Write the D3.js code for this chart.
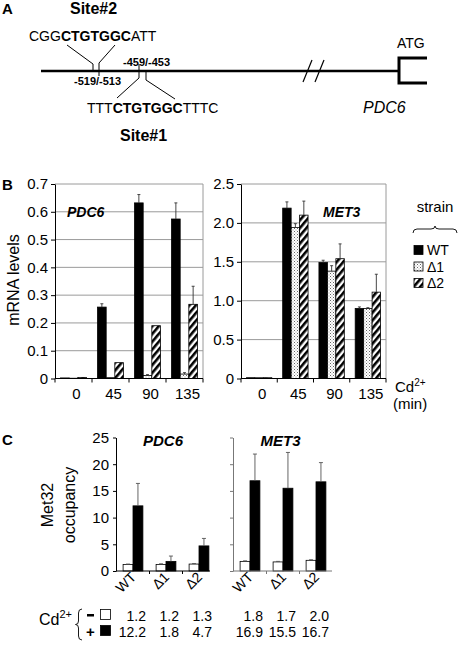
<!DOCTYPE html>
<html><head><meta charset="utf-8">
<script src="https://cdn.jsdelivr.net/npm/d3@7"></script>
<style>
body{margin:0;background:#fff}
svg text{font-family:Arial,"Liberation Sans",Helvetica,sans-serif;fill:#000}
</style></head>
<body><svg id="fig" width="458" height="645"></svg>
<script>
// ---------------- DATA ----------------
const timepoints = ["0","45","90","135"];
const strains = ["WT","Δ1","Δ2"];

// Panel B: PDC6 mRNA levels (per strain, per timepoint)
const pdc6WT  = [0.002, 0.257, 0.632, 0.574];
const pdc6D1  = [0.001, 0.003, 0.011, 0.016];
const pdc6D2  = [0.004, 0.057, 0.190, 0.267];
const pdc6WTerr = [0, 0.012, 0.030, 0.058];
const pdc6D1err = [0, 0, 0.003, 0.005];
const pdc6D2err = [0, 0, 0, 0.065];
const pdc6TickValues = [0,0.1,0.2,0.3,0.4,0.5,0.6,0.7];
const pdc6TickLabels = ["0","0.1","0.2","0.3","0.4","0.5","0.6","0.7"];

// Panel B: MET3 mRNA levels
const met3WT  = [0.01, 2.19, 1.49, 0.90];
const met3D1  = [0.01, 1.94, 1.38, 0.90];
const met3D2  = [0.01, 2.10, 1.54, 1.11];
const met3WTerr = [0, 0.08, 0.03, 0.02];
const met3D1err = [0, 0.05, 0.07, 0.01];
const met3D2err = [0, 0.18, 0.19, 0.23];
const met3TickValues = [0,0.5,1.0,1.5,2.0,2.5];
const met3TickLabels = ["0","0.5","1.0","1.5","2.0","2.5"];

// Panel C: Met32 occupancy (- Cd / + Cd)
const occPDC6minus = [1.2, 1.2, 1.3];
const occPDC6plus  = [12.2, 1.8, 4.7];
const occMET3minus = [1.8, 1.7, 2.0];
const occMET3plus  = [16.9, 15.5, 16.7];
const occPDC6minusErr = [0.1, 0.15, 0.1];
const occPDC6plusErr  = [4.2, 1.0, 1.4];
const occMET3minusErr = [0.1, 0.1, 0.1];
const occMET3plusErr  = [5.0, 6.7, 3.6];
const occTickValues = [0,5,10,15,20,25];
const occTickLabels = ["0","5","10","15","20","25"];

// ---------------- DRAWING ----------------
const svg = d3.select("#fig");
const defs = svg.append("defs");
// hatched pattern (Δ2)
const hp = defs.append("pattern").attr("id","hatch").attr("patternUnits","userSpaceOnUse")
  .attr("width",5).attr("height",5).attr("patternTransform","rotate(40)");
hp.append("rect").attr("width",5).attr("height",5).attr("fill","#fff");
hp.append("rect").attr("width",2.6).attr("height",5).attr("fill","#000");
// dotted pattern (Δ1)
const dp = defs.append("pattern").attr("id","dots").attr("patternUnits","userSpaceOnUse")
  .attr("width",3).attr("height",3);
dp.append("rect").attr("width",3).attr("height",3).attr("fill","#fff");
dp.append("rect").attr("x",0).attr("y",0).attr("width",1).attr("height",1).attr("fill","#666");
dp.append("rect").attr("x",1.5).attr("y",1.5).attr("width",1).attr("height",1).attr("fill","#999");

const fills = {"WT":"#000","Δ1":"url(#dots)","Δ2":"url(#hatch)"};

// ===== Panel A: promoter diagram =====
const A = svg.append("g");
A.append("text").attr("x",2).attr("y",14).attr("font-size",15).attr("font-weight","bold").text("A");
const line = (pts, w) => A.append("path").attr("d", d3.line()(pts)).attr("fill","none")
  .attr("stroke","#000").attr("stroke-width", w||1);
line([[41,71],[399,71]], 2.5);
line([[303,82],[312,60]], 1.2);
line([[315,82],[324,60]], 1.2);
line([[427,58],[399,58],[399,83],[427,83]], 3);
// site 2 connectors
line([[67,45],[93,64],[93,71]]);
line([[115,45],[99,63],[99,76]]);
// site 1 connectors
line([[139,64],[139,78],[117,98]]);
line([[146,71],[146,80],[175,99]]);
A.append("text").attr("x",70).attr("y",14).attr("font-size",16).attr("font-weight","bold").text("Site#2");
const s2 = A.append("text").attr("x",29).attr("y",41).attr("font-size",14);
s2.append("tspan").text("CGG"); s2.append("tspan").attr("font-weight","bold").text("CTGTGGC"); s2.append("tspan").text("ATT");
A.append("text").attr("x",123).attr("y",66).attr("font-size",11).attr("font-weight","bold").text("-459/-453");
A.append("text").attr("x",74).attr("y",85).attr("font-size",11).attr("font-weight","bold").text("-519/-513");
const s1 = A.append("text").attr("x",87).attr("y",113).attr("font-size",14);
s1.append("tspan").text("TTT"); s1.append("tspan").attr("font-weight","bold").text("CTGTGGC"); s1.append("tspan").text("TTTC");
A.append("text").attr("x",120).attr("y",141).attr("font-size",16).attr("font-weight","bold").text("Site#1");
A.append("text").attr("x",397).attr("y",48).attr("font-size",14).text("ATG");
A.append("text").attr("x",363).attr("y",113).attr("font-size",16).attr("font-style","italic").text("PDC6");

// ===== Panel B =====
svg.append("text").attr("x",2).attr("y",190).attr("font-size",15).attr("font-weight","bold").text("B");
svg.append("text").attr("transform","translate(19,280) rotate(-90)").attr("text-anchor","middle")
  .attr("font-size",16).text("mRNA levels");

function mrnaChart(x0, x1, yTop, yBot, vals, errs, tickVals, tickLabels, title, titleX) {
  const g = svg.append("g");
  const y = d3.scaleLinear().domain([0, tickVals[tickVals.length-1]]).range([yBot, yTop]);
  const xb = d3.scaleBand().domain(timepoints).range([x0, x1]).paddingInner(0.3).paddingOuter(0.15);
  const xs = d3.scaleBand().domain(strains).range([0, xb.bandwidth()]);
  // gridlines
  g.selectAll("line.grid").data(tickVals.slice(1)).join("line")
    .attr("x1",x0).attr("x2",x1).attr("y1",d=>y(d)).attr("y2",d=>y(d))
    .attr("stroke","#9a9a9a").attr("stroke-width",1);
  g.append("line").attr("x1",x1).attr("x2",x1).attr("y1",yTop).attr("y2",yBot).attr("stroke","#9a9a9a");
  // title
  g.append("text").attr("x",titleX).attr("y",y(tickVals[tickVals.length-1]*0.857)+5)
    .attr("font-size",14).attr("font-weight","bold").attr("font-style","italic").text(title);
  // bars
  strains.forEach((s, si) => {
    const data = timepoints.map((t, i) => ({t, v: vals[si][i], e: errs[si][i]}));
    g.selectAll(null).data(data).join("rect")
      .attr("x", d => xb(d.t) + xs(s)).attr("width", xs.bandwidth())
      .attr("y", d => y(d.v)).attr("height", d => y(0) - y(d.v))
      .attr("fill", fills[s]).attr("stroke","#000").attr("stroke-width",0.8);
    const eb = data.filter(d => d.e > 0);
    g.selectAll(null).data(eb).join("path")
      .attr("d", d => {const cx = xb(d.t)+xs(s)+xs.bandwidth()/2;
        return `M${cx},${y(d.v)}V${y(d.v+d.e)}M${cx-1.5},${y(d.v+d.e)}H${cx+1.5}`;})
      .attr("stroke","#333").attr("stroke-width",0.9).attr("fill","none");
  });
  // y axis
  const ya = g.append("g").attr("transform",`translate(${x0},0)`)
    .call(d3.axisLeft(y).tickValues(tickVals).tickFormat((d,i)=>tickLabels[i]).tickSize(4).tickPadding(3).tickSizeOuter(0));
  ya.selectAll("text").attr("font-size",15).attr("font-family",null);
  ya.selectAll("line,path").attr("stroke","#000");
  // x axis
  const xa = g.append("g").attr("transform",`translate(0,${yBot})`);
  xa.append("line").attr("x1",x0).attr("x2",x1).attr("stroke","#000");
  const bounds = timepoints.map(t => xb(t) - xb.step()*xb.paddingInner()/2).concat([x1]);
  xa.selectAll("line.tk").data(bounds).join("line").attr("x1",d=>d).attr("x2",d=>d).attr("y1",0).attr("y2",4).attr("stroke","#000");
  xa.selectAll("text").data(timepoints).join("text")
    .attr("x", t => xb(t) + xb.bandwidth()/2 + 3).attr("y", 20).attr("text-anchor","middle")
    .attr("font-size",15).text(t => t);
}
mrnaChart(55, 203, 184, 378.5, [pdc6WT,pdc6D1,pdc6D2], [pdc6WTerr,pdc6D1err,pdc6D2err],
  pdc6TickValues, pdc6TickLabels, "PDC6", 67);
mrnaChart(241, 386, 184, 378.5, [met3WT,met3D1,met3D2], [met3WTerr,met3D1err,met3D2err],
  met3TickValues, met3TickLabels, "MET3", 323);

// legend
const L = svg.append("g");
L.append("text").attr("x",435).attr("y",212).attr("text-anchor","middle").attr("font-size",15).text("strain");
L.append("path").attr("d","M413,233 Q413,229 417,229 L431,229 Q435,229 435,226 Q435,229 439,229 L453,229 Q457,229 457,233")
  .attr("fill","none").attr("stroke","#000").attr("stroke-width",0.9);
strains.forEach((s,i) => {
  const cy = 250 + i*16.5;
  L.append("rect").attr("x",414).attr("y",cy-4.5).attr("width",9).attr("height",9)
    .attr("fill",fills[s]).attr("stroke","#000").attr("stroke-width",0.8);
  L.append("text").attr("x",427).attr("y",cy+5).attr("font-size",14).text(s);
});
const cdB = svg.append("text").attr("x",395).attr("y",392).attr("font-size",15);
cdB.append("tspan").text("Cd"); cdB.append("tspan").attr("font-size",10).attr("dy",-6).text("2+");
svg.append("text").attr("x",393).attr("y",409).attr("font-size",15).text("(min)");

// ===== Panel C =====
svg.append("text").attr("x",2).attr("y",445).attr("font-size",15).attr("font-weight","bold").text("C");
const yl = svg.append("text").attr("transform","translate(0,505) rotate(-90)").attr("text-anchor","middle").attr("font-size",16);
yl.append("tspan").attr("x",0).attr("y",53).text("Met32");
yl.append("tspan").attr("x",0).attr("y",75).text("occupancy");

function occChart(x0, xEnd, yTop, yBot, minus, plus, minusErr, plusErr, title, showLabels, axisColor) {
  const g = svg.append("g");
  const y = d3.scaleLinear().domain([0,25]).range([yBot, yTop]);
  const xb = d3.scaleBand().domain(strains).range([x0+0.5, x0+0.5+99]).paddingInner(0.4).paddingOuter(0.2);
  const xs = d3.scaleBand().domain(["-","+"]).range([0, xb.bandwidth()]);
  const groups = [["-", minus, minusErr, "#fff"], ["+", plus, plusErr, "#000"]];
  groups.forEach(([k, vals, errs, col]) => {
    const data = strains.map((s,i)=>({s, v: vals[i], e: errs[i]}));
    g.selectAll(null).data(data).join("rect")
      .attr("x", d => xb(d.s)+xs(k)).attr("width", xs.bandwidth())
      .attr("y", d => y(d.v)).attr("height", d => y(0)-y(d.v))
      .attr("fill", col).attr("stroke","#000").attr("stroke-width",0.8);
    g.selectAll(null).data(data).join("path")
      .attr("d", d => {const cx = xb(d.s)+xs(k)+xs.bandwidth()/2;
        return `M${cx},${y(d.v)}V${y(d.v+d.e)}M${cx-2},${y(d.v+d.e)}H${cx+2}`;})
      .attr("stroke","#555").attr("stroke-width",0.9).attr("fill","none");
  });
  const ya = g.append("g").attr("transform",`translate(${x0},0)`)
    .call(d3.axisLeft(y).tickValues(occTickValues).tickFormat((d,i)=> showLabels ? occTickLabels[i] : "").tickSize(3).tickPadding(4).tickSizeOuter(0));
  ya.selectAll("text").attr("font-size",15).attr("font-family",null);
  ya.selectAll("line,path").attr("stroke",axisColor);
  const xa = g.append("g").attr("transform",`translate(0,${yBot})`);
  xa.append("line").attr("x1",x0).attr("x2",xEnd).attr("stroke",axisColor);
  const bounds = strains.slice(1).map(s => xb(s) - xb.step()*xb.paddingInner()/2);
  xa.selectAll("line.tk").data(bounds).join("line").attr("x1",d=>d).attr("x2",d=>d).attr("y1",0).attr("y2",3).attr("stroke",axisColor);
  xa.selectAll("text").data(strains).join("text")
    .attr("transform", s => `translate(${xb(s)+xb.bandwidth()/2+4},7) rotate(-45)`)
    .attr("text-anchor","end").attr("font-size",14).text(s=>s);
  g.append("text").attr("x", (x0+xEnd)/2 + (showLabels?0:-2)).attr("y",yTop+8).attr("text-anchor","middle")
    .attr("font-size",15).attr("font-weight","bold").attr("font-style","italic").text(title);
  // value table
  [[minus, 621], [plus, 637]].forEach(([vals, by]) => {
    g.selectAll(null).data(strains).join("text")
      .attr("x", (s,i) => xb(s)+xb.bandwidth()/2+13).attr("y", by).attr("text-anchor","end")
      .attr("font-size",14).text((s,i)=>vals[i].toFixed(1));
  });
}
occChart(116, 210, 437.5, 571, occPDC6minus, occPDC6plus, occPDC6minusErr, occPDC6plusErr, "PDC6", true, "#000");
occChart(233, 332, 437.5, 571, occMET3minus, occMET3plus, occMET3minusErr, occMET3plusErr, "MET3", false, "#777");

// Cd2+ legend for table
const cdC = svg.append("text").attr("x",39).attr("y",625).attr("font-size",16);
cdC.append("tspan").text("Cd"); cdC.append("tspan").attr("font-size",11).attr("dy",-7).text("2+");
svg.append("path").attr("d","M82,609 Q78.5,609 78.5,613 L78.5,621 Q78.5,624.5 75.5,624.5 Q78.5,624.5 78.5,628 L78.5,636 Q78.5,640 82,640")
  .attr("fill","none").attr("stroke","#000").attr("stroke-width",0.9);
svg.append("rect").attr("x",87).attr("y",614).attr("width",7).attr("height",2.5).attr("fill","#000");
svg.append("text").attr("x",90.5).attr("y",637).attr("text-anchor","middle").attr("font-size",15).attr("font-weight","bold").text("+");
svg.append("rect").attr("x",100.5).attr("y",609.5).attr("width",10).attr("height",10).attr("fill","#fff").attr("stroke","#000").attr("stroke-width",0.8);
svg.append("rect").attr("x",100.5).attr("y",625.5).attr("width",10).attr("height",10).attr("fill","#000").attr("stroke","#000").attr("stroke-width",0.8);
</script></body></html>
